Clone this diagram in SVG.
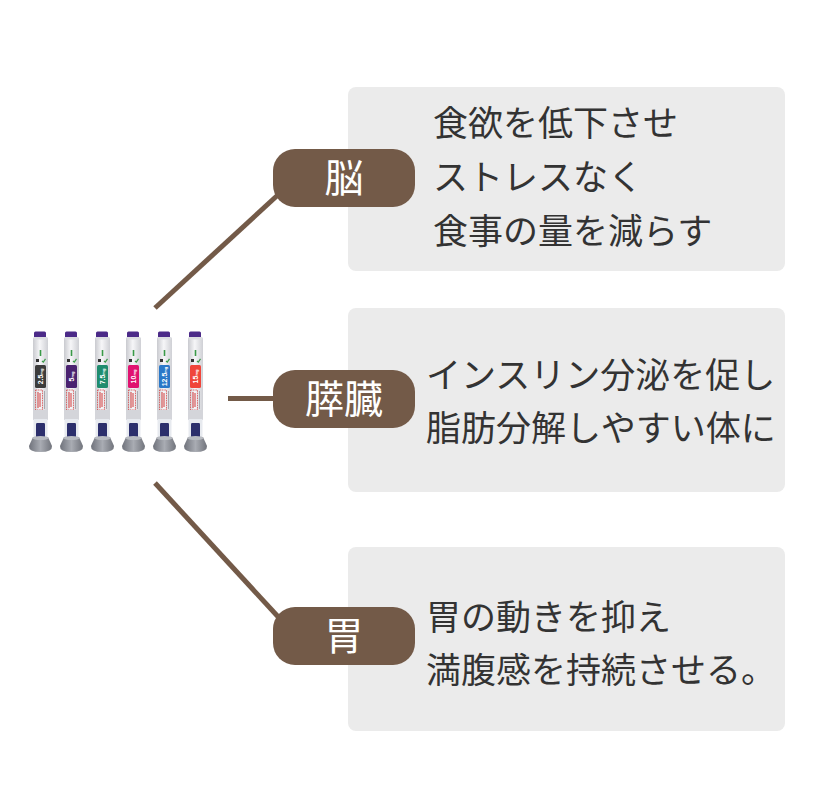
<svg xmlns="http://www.w3.org/2000/svg" xmlns:xlink="http://www.w3.org/1999/xlink" width="825" height="800" viewBox="0 0 825 800">
<style>
.box{fill:#ebebeb;}
.pill{fill:#735a48;}
.conn{stroke:#735a48;stroke-width:5;fill:none;stroke-linecap:butt;}
.txt{font-family:"Noto Sans CJK JP","Noto Sans",sans-serif;font-size:35px;fill:#333333;}
.ptxt{font-family:"Noto Sans CJK JP","Noto Sans",sans-serif;font-size:39px;fill:#ffffff;text-anchor:middle;}
.dose{font-family:"Liberation Sans","Noto Sans",sans-serif;font-size:7px;font-weight:bold;fill:#ffffff;text-anchor:middle;dominant-baseline:central;}
</style>
<defs>
<linearGradient id="body" x1="0" y1="0" x2="1" y2="0">
<stop offset="0" stop-color="#c9cacf"/>
<stop offset="0.45" stop-color="#f6f6f8"/>
<stop offset="1" stop-color="#cfd0d5"/>
</linearGradient>
<linearGradient id="base" x1="0" y1="0" x2="1" y2="0">
<stop offset="0" stop-color="#6f727b"/>
<stop offset="0.5" stop-color="#a9acb3"/>
<stop offset="1" stop-color="#71747c"/>
</linearGradient>
<g id="pen">
<rect x="-7.5" y="338" width="15" height="82" fill="url(#body)"/>
<rect x="-6.5" y="331.5" width="12" height="6.5" rx="1.5" fill="#4b2a88"/>
<rect x="-7" y="337" width="14" height="2.5" fill="#dcdde1"/>
<rect x="-0.8" y="350" width="1.6" height="6" fill="#3a9a48"/>
<rect x="-4.5" y="359" width="3" height="3" fill="#333333"/>
<path d="M1.5,361 L2.8,362.2 L5,358.8" stroke="#3a9a48" stroke-width="1.2" fill="none"/>
<rect x="-5" y="390" width="7" height="20" fill="none" stroke="#d23a3a" stroke-width="0.7" stroke-dasharray="1.6 0.8"/>
<rect x="-3" y="392" width="1" height="16" fill="#d23a3a"/>
<rect x="-1" y="393" width="1" height="14" fill="#d23a3a"/>
<rect x="3.5" y="391" width="0.8" height="18" fill="#9a9aa0"/>
<rect x="-7.5" y="410" width="15" height="9" fill="#d4d5da"/>
<rect x="-7" y="419" width="14" height="18" fill="#e7eaef"/>
<rect x="-4.5" y="423" width="9" height="15" rx="1.2" fill="#2c2f6c"/>
<path d="M-7.5,437 L7.5,437 L11.5,446 Q12,452 0,452 Q-12,452 -11.5,446 Z" fill="url(#base)"/>
<ellipse cx="0" cy="438" rx="8" ry="2" fill="#b8bbc1"/>
</g>
</defs>

<g id="pens">
<use xlink:href="#pen" href="#pen" x="40.5"/>
<rect x="35" y="365" width="11" height="23" rx="1.5" fill="#3c3c3c"/>
<text class="dose" transform="translate(40.5,376.5) rotate(-90)">2.5<tspan font-size="4">mg</tspan></text>
<use xlink:href="#pen" href="#pen" x="71.5"/>
<rect x="66" y="365" width="11" height="23" rx="1.5" fill="#4a2270"/>
<text class="dose" transform="translate(71.5,376.5) rotate(-90)">5<tspan font-size="4">mg</tspan></text>
<use xlink:href="#pen" href="#pen" x="102.5"/>
<rect x="97" y="365" width="11" height="23" rx="1.5" fill="#1f8c6e"/>
<text class="dose" transform="translate(102.5,376.5) rotate(-90)">7.5<tspan font-size="4">mg</tspan></text>
<use xlink:href="#pen" href="#pen" x="133.5"/>
<rect x="128" y="365" width="11" height="23" rx="1.5" fill="#e01370"/>
<text class="dose" transform="translate(133.5,376.5) rotate(-90)">10<tspan font-size="4">mg</tspan></text>
<use xlink:href="#pen" href="#pen" x="164.5"/>
<rect x="159" y="365" width="11" height="23" rx="1.5" fill="#2a78c8"/>
<text class="dose" transform="translate(164.5,376.5) rotate(-90)">12.5<tspan font-size="4">mg</tspan></text>
<use xlink:href="#pen" href="#pen" x="195.5"/>
<rect x="190" y="365" width="11" height="23" rx="1.5" fill="#f0453a"/>
<text class="dose" transform="translate(195.5,376.5) rotate(-90)">15<tspan font-size="4">mg</tspan></text>
</g>

<g id="box-brain">
<rect class="box" x="348" y="87" width="437" height="184" rx="8"/>
<text class="txt" x="433" y="136">食欲を低下させ</text>
<text class="txt" x="433" y="190">ストレスなく</text>
<text class="txt" x="433" y="244">食事の量を減らす</text>
</g>
<g id="box-pancreas">
<rect class="box" x="348" y="308" width="437" height="184" rx="8"/>
<text class="txt" x="426" y="388">インスリン分泌を促し</text>
<text class="txt" x="426" y="441">脂肪分解しやすい体に</text>
</g>
<g id="box-stomach">
<rect class="box" x="348" y="547" width="437" height="184" rx="8"/>
<text class="txt" x="426" y="630">胃の動きを抑え</text>
<text class="txt" x="426" y="683">満腹感を持続させる。</text>
</g>

<g id="connectors">
<line class="conn" x1="155" y1="308" x2="280" y2="193"/>
<line class="conn" x1="228" y1="398.5" x2="276" y2="398.5"/>
<line class="conn" x1="155" y1="483" x2="282" y2="621"/>
</g>

<g id="node-brain">
<rect class="pill" x="273" y="149" width="142" height="58" rx="22"/>
<text class="ptxt" x="344" y="192">脳</text>
</g>
<g id="node-pancreas">
<rect class="pill" x="273" y="370" width="142" height="58" rx="22"/>
<text class="ptxt" x="344" y="413">膵臓</text>
</g>
<g id="node-stomach">
<rect class="pill" x="273" y="607" width="142" height="58" rx="22"/>
<text class="ptxt" x="344" y="650">胃</text>
</g>
</svg>
